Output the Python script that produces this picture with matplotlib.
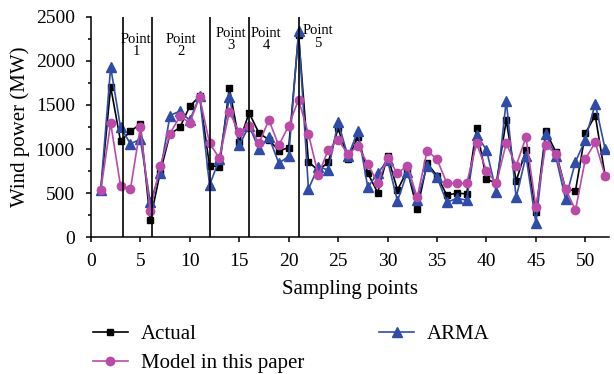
import matplotlib.pyplot as plt
import numpy as np
from matplotlib.ticker import MultipleLocator

plt.rcParams['font.family'] = ['Liberation Serif', 'DejaVu Serif']

# Sampling points 1..52
punkte = np.arange(1, 53)

actual = [530, 1705, 1090, 1200, 1285, 190, 730, 1170, 1245, 1485,
          1600, 810, 800, 1695, 1080, 1410, 1180, 1105, 980, 1015,
          2295, 855, 755, 850, 1235, 885, 1140, 725, 505, 925,
          535, 755, 315, 840, 695, 475, 500, 490, 1235, 655,
          615, 1325, 635, 990, 285, 1200, 970, 545, 525, 1180,
          1380, 695]
model = [530, 1295, 580, 545, 1245, 300, 805, 1175, 1370, 1300,
         1590, 1065, 895, 1420, 1190, 1265, 1065, 1330, 1040, 1265,
         1560, 1170, 705, 990, 1105, 940, 1035, 830, 615, 900,
         725, 810, 450, 980, 885, 610, 610, 610, 1065, 755,
         610, 1065, 810, 1135, 340, 1045, 945, 550, 305, 885,
         1075, 695]
arma = [540, 1930, 1245, 1060, 1110, 400, 730, 1380, 1430, 1325,
        1600, 590, 885, 1590, 1040, 1265, 995, 1135, 840, 915,
        2335, 545, 800, 760, 1305, 915, 1205, 565, 725, 870,
        410, 735, 420, 810, 680, 395, 440, 420, 1160, 990,
        510, 1550, 450, 920, 160, 1170, 920, 430, 855, 1105,
        1515, 1000]

# Trennlinien und Beschriftungen der Abschnitte
grenzen = [3.2, 6.2, 12, 16, 21]
abschnitt_x = [4.6, 9.1, 14.2, 17.7, 22.95]
abschnitt_y = [2175, 2175, 2240, 2240, 2270]
abschnitt_txt = ["Point\n1", "Point\n2", "Point\n3", "Point\n4", "Point\n5"]

fig = plt.figure(figsize=(6.14, 3.74), dpi=100)
ax = fig.add_axes([0.148, 0.366, 0.844, 0.589])

ax.plot(punkte, actual, color='black', marker='s', markersize=5, lw=1.2,
        label='Actual')
ax.plot(punkte, arma, color='#2f4da8', marker='^', markersize=7, lw=1.2,
        label='ARMA')
ax.plot(punkte, model, color='#bb4aa8', marker='o', markersize=6, lw=1.2,
        label='Model in this paper')

for g in grenzen:
    ax.axvline(g, color='black', lw=1.2)
for x, y, t in zip(abschnitt_x, abschnitt_y, abschnitt_txt):
    ax.text(x, y, t, ha='center', va='center', fontsize=10.5, linespacing=0.95)

ax.set_xlim(0, 52.4)
ax.set_ylim(0, 2500)
ax.xaxis.set_major_locator(MultipleLocator(5))
ax.yaxis.set_major_locator(MultipleLocator(500))
ax.yaxis.set_minor_locator(MultipleLocator(250))
ax.tick_params(which='both', direction='out', labelsize=14, width=1.1, pad=8)
ax.tick_params(which='major', length=3.6)
ax.tick_params(which='minor', length=2.2)
ax.spines['top'].set_visible(False)
ax.spines['right'].set_visible(False)
ax.spines['left'].set_linewidth(1.1)
ax.spines['bottom'].set_linewidth(1.1)

ax.set_xlabel("Sampling points", fontsize=15, labelpad=7)
ax.set_ylabel("Wind power (MW)", fontsize=15, labelpad=4)

h, l = ax.get_legend_handles_labels()
reihenfolge = [0, 2, 1]
fig.legend([h[i] for i in reihenfolge], [l[i] for i in reihenfolge],
           loc='upper left', bbox_to_anchor=(0.151, 0.132), ncol=2,
           frameon=False, fontsize=15, handlelength=1.7, handletextpad=0.6,
           columnspacing=3.6, labelspacing=0.45, borderpad=0, borderaxespad=0)

fig.savefig("out.png", dpi=100)
